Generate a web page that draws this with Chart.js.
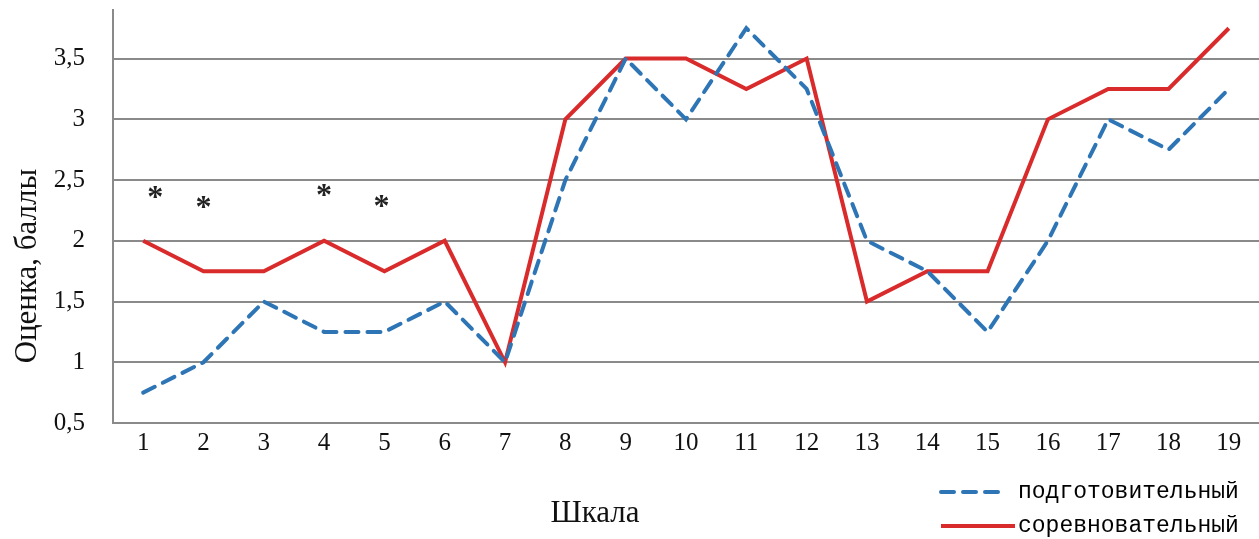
<!DOCTYPE html>
<html>
<head>
<meta charset="utf-8">
<script src="https://cdn.jsdelivr.net/npm/chart.js@4"></script>
<style>
  html, body { margin: 0; padding: 0; background: #fff; }
  #wrap { width: 1259px; height: 539px; position: relative; }
</style>
</head>
<body>
<div id="wrap"><canvas id="grafica"></canvas></div>
<script>
// Шкалы 1..19
var etiquetas = ['1','2','3','4','5','6','7','8','9','10','11','12','13','14','15','16','17','18','19'];
var podgotovitelny = [0.75, 1.0, 1.5, 1.25, 1.25, 1.5, 1.0, 2.5, 3.5, 3.0, 3.75, 3.25, 2.0, 1.75, 1.25, 2.0, 3.0, 2.75, 3.25];
var sorevnovatelny = [2.0, 1.75, 1.75, 2.0, 1.75, 2.0, 1.0, 3.0, 3.5, 3.5, 3.25, 3.5, 1.5, 1.75, 1.75, 3.0, 3.25, 3.25, 3.75];
// звездочки (индекс категории, значение)
var asteriscoPos = [0.2, 1, 3, 3.95];
var asteriscoVal = [2.4, 2.32, 2.42, 2.33];

var serif = '"Liberation Serif", "Times New Roman", serif';
var gris = '#8a8a8a';

var extras = {
    id: 'extras',
    afterDatasetsDraw: function(chart) {
        var ctx = chart.ctx;
        var x = chart.scales.x, y = chart.scales.y;
        ctx.save();
        // asteriscos
        ctx.fillStyle = '#222';
        ctx.font = 'bold 32px "Liberation Serif", serif';
        ctx.textAlign = 'center';
        ctx.textBaseline = 'alphabetic';
        var m = ctx.measureText('*');
        var off = (m.actualBoundingBoxAscent - m.actualBoundingBoxDescent) / 2;
        for (var i = 0; i < asteriscoPos.length; i++) {
            ctx.fillText('*', x.getPixelForValue(asteriscoPos[i]), y.getPixelForValue(asteriscoVal[i]) + off);
        }
        // titulos de ejes
        ctx.fillStyle = '#111';
        ctx.font = '31px ' + serif;
        ctx.textBaseline = 'middle';
        ctx.fillText('Шкала', 595, 514);
        ctx.save();
        ctx.translate(28, 266);
        ctx.rotate(-Math.PI / 2);
        ctx.fillText('Оценка, баллы', 0, 0);
        ctx.restore();
        // leyenda
        var ds = chart.data.datasets;
        var filas = [492, 526];
        ctx.font = '23px "Liberation Mono", "Courier New", monospace';
        ctx.textAlign = 'left';
        for (var k = 0; k < ds.length; k++) {
            ctx.beginPath();
            ctx.strokeStyle = ds[k].borderColor;
            ctx.lineWidth = ds[k].borderWidth;
            ctx.lineCap = ds[k].borderDash ? 'round' : 'butt';
            ctx.setLineDash(ds[k].borderDash || []);
            ctx.moveTo(941, filas[k]);
            ctx.lineTo(k === 0 ? 1006 : 1015, filas[k]);
            ctx.stroke();
            ctx.setLineDash([]);
            ctx.fillStyle = '#000';
            ctx.fillText(ds[k].label, 1018, filas[k]);
        }
        ctx.restore();
    }
};

var grafica = new Chart(document.getElementById('grafica').getContext('2d'), {
    type: 'line',
    data: {
        labels: etiquetas,
        datasets: [{
            label: 'подготовительный',
            data: podgotovitelny,
            borderColor: '#2e75b6',
            borderWidth: 4,
            borderDash: [13, 9],
            borderCapStyle: 'round',
            pointRadius: 0,
            fill: false,
            tension: 0
        }, {
            label: 'соревновательный',
            data: sorevnovatelny,
            borderColor: '#d92b2b',
            borderWidth: 4,
            pointRadius: 0,
            fill: false,
            tension: 0
        }]
    },
    options: {
        responsive: true,
        maintainAspectRatio: false,
        animation: false,
        layout: { padding: { top: 10, left: 0, right: 0, bottom: 0 } },
        plugins: {
            legend: { display: false },
            tooltip: { enabled: false }
        },
        scales: {
            x: {
                offset: true,
                grid: { display: false, drawTicks: false },
                border: { display: true, color: gris, width: 2 },
                ticks: {
                    color: '#111',
                    padding: 5,
                    maxRotation: 0,
                    font: { family: serif, size: 25 }
                },
                afterFit: function(s) { s.height = 116; s.paddingLeft = 0; s.paddingRight = 0; }
            },
            y: {
                min: 0.5,
                max: 3.9,
                grid: { color: gris, lineWidth: 2, drawTicks: false },
                border: { display: true, color: gris, width: 2 },
                ticks: {
                    stepSize: 0.5,
                    includeBounds: false,
                    color: '#111',
                    padding: 28,
                    font: { family: serif, size: 25 },
                    callback: function(v) { return String(v).replace('.', ','); }
                },
                afterFit: function(s) { s.width = 113; s.paddingTop = 0; s.paddingBottom = 0; }
            }
        }
    },
    plugins: [extras]
});
</script>
</body>
</html>
